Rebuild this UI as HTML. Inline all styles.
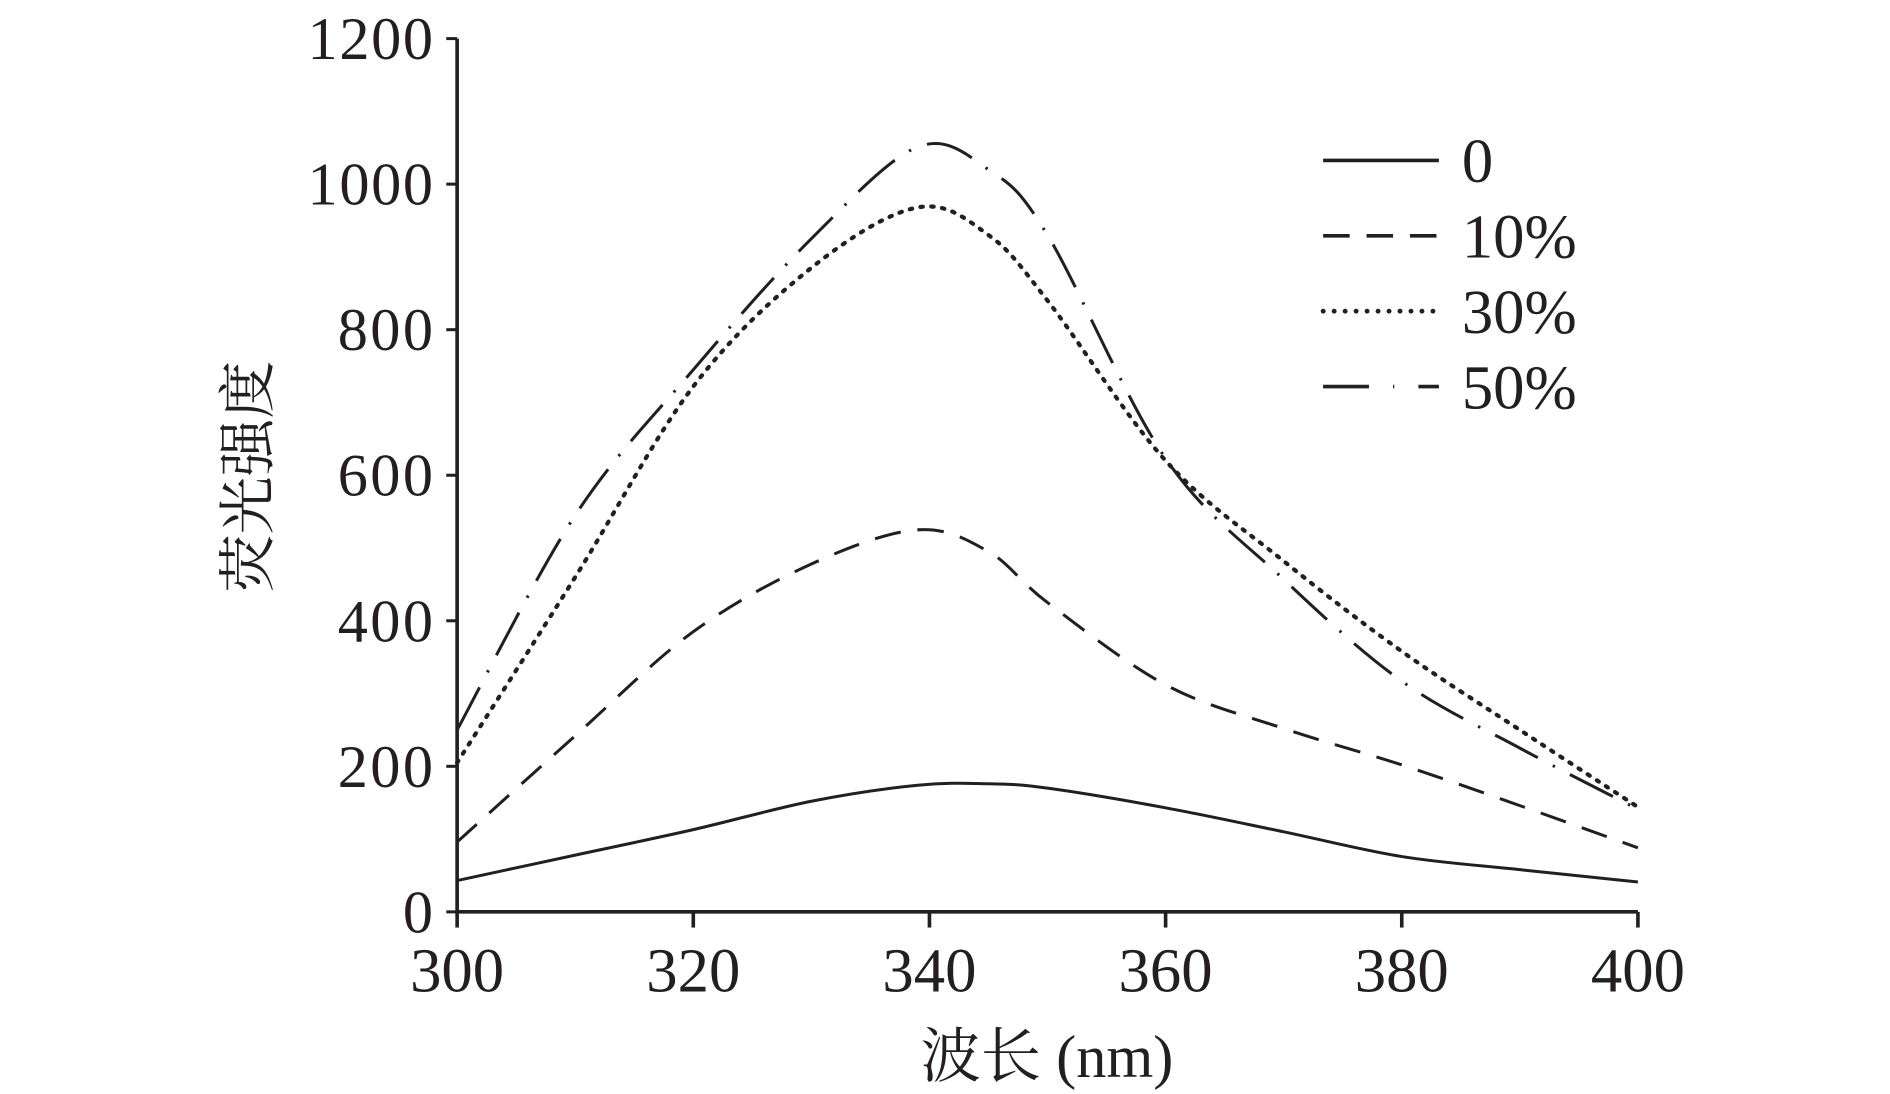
<!DOCTYPE html>
<html><head><meta charset="utf-8"><style>
html,body{margin:0;padding:0;background:#fff;}
svg{display:block;}
text{font-family:"Liberation Serif","Noto Serif CJK SC",serif;fill:#231f20;}
</style></head><body>
<svg id="chart" width="1890" height="1094" viewBox="0 0 1567 907" preserveAspectRatio="none" xmlns="http://www.w3.org/2000/svg"></svg>
<script>
const xTicks=[300,320,340,360,380,400];
const yTicks=[0,200,400,600,800,1000,1200];
const wavelengths=[300,310,320,330,339,345,350,360,370,380,390,400];
const s0=[43,78,113,152,174,176,170,143,110,76,58,41];
const s10=[96,242,385,478,525,495,425,312,252,202,146,88];
const s30=[205,460,722,885,968,930,840,620,482,358,250,144];
const s50=[250,545,745,925,1051,1020,930,623,457,317,225,141];
const seriesNames=['0','10%','30%','50%'];
const seriesVals=[s0,s10,s30,s50];
const dashes=['none','22 14','2 7','40 14 2 14'];
const caps=['butt','butt','round','butt'];

const NS='http://www.w3.org/2000/svg';
const svg=document.getElementById('chart');
const X0=379,X1=1358,Y0=756,Y1=32;
const xs=v=>X0+(v-300)/100*(X1-X0);
const ys=v=>Y0-v/1200*(Y0-Y1);
function mk(t,a,p){const e=document.createElementNS(NS,t);for(const k in a)e.setAttribute(k,a[k]);(p||svg).appendChild(e);return e;}

const ax=mk('path',{d:`M${X0} ${Y1}V${Y0}H${X1}`,fill:'none',stroke:'#231f20','stroke-width':3});


yTicks.forEach(v=>{
  const l=mk('line',{x1:X0-9,x2:X0,y1:ys(v),y2:ys(v),stroke:'#231f20','stroke-width':2.5});
  
  
  const t=mk('text',{x:X0-20,y:ys(v)+17,'text-anchor':'end','font-size':50,'textLength':v>=1000?104:v>0?79:26});
  t.textContent=v;
  
  
});
xTicks.forEach(v=>{
  const l=mk('line',{x1:xs(v),x2:xs(v),y1:Y0,y2:Y0+13,stroke:'#231f20','stroke-width':3});
  
  
  const t=mk('text',{x:xs(v),y:Y0+66,'text-anchor':'middle','font-size':52});
  t.textContent=v;
  
  
});
const xt=mk('text',{x:868,y:893,'text-anchor':'middle','font-size':50});
xt.textContent='波长 (nm)';


const yt=mk('text',{x:0,y:0,'text-anchor':'middle','font-size':48,transform:'translate(222,395) rotate(-90)'});
yt.textContent='荧光强度';



function smooth(pts){
  let d=`M${pts[0][0]} ${pts[0][1]}`;
  for(let i=0;i<pts.length-1;i++){
    const p0=pts[i-1]||pts[i],p1=pts[i],p2=pts[i+1],p3=pts[i+2]||p2;
    const c1=[p1[0]+(p2[0]-p0[0])/6,p1[1]+(p2[1]-p0[1])/6];
    const c2=[p2[0]-(p3[0]-p1[0])/6,p2[1]-(p3[1]-p1[1])/6];
    d+=`C${c1[0]} ${c1[1]} ${c2[0]} ${c2[1]} ${p2[0]} ${p2[1]}`;
  }
  return d;
}
seriesVals.forEach((vals,i)=>{
  const pts=wavelengths.map((w,j)=>[xs(w),ys(vals[j])]);
  const p=mk('path',{d:smooth(pts),fill:'none',stroke:'#231f20','stroke-width':i==2?3.5:2.5,'stroke-dasharray':dashes[i],'stroke-linecap':caps[i]});
  
  
  const ly=133+i*62.5;
  const g=mk('g',{});
  
  
  mk('line',{x1:1097,x2:1193,y1:ly,y2:ly,stroke:'#231f20','stroke-width':i==2?4:3,'stroke-dasharray':i==1?'22 14':i==2?'0.1 9':i==3?'38 20 1 20':'none','stroke-linecap':i==2?'round':'butt'},g);
  const t=mk('text',{x:1212,y:ly+18,'font-size':52},g);
  t.textContent=seriesNames[i];
});
</script>
</body></html>
